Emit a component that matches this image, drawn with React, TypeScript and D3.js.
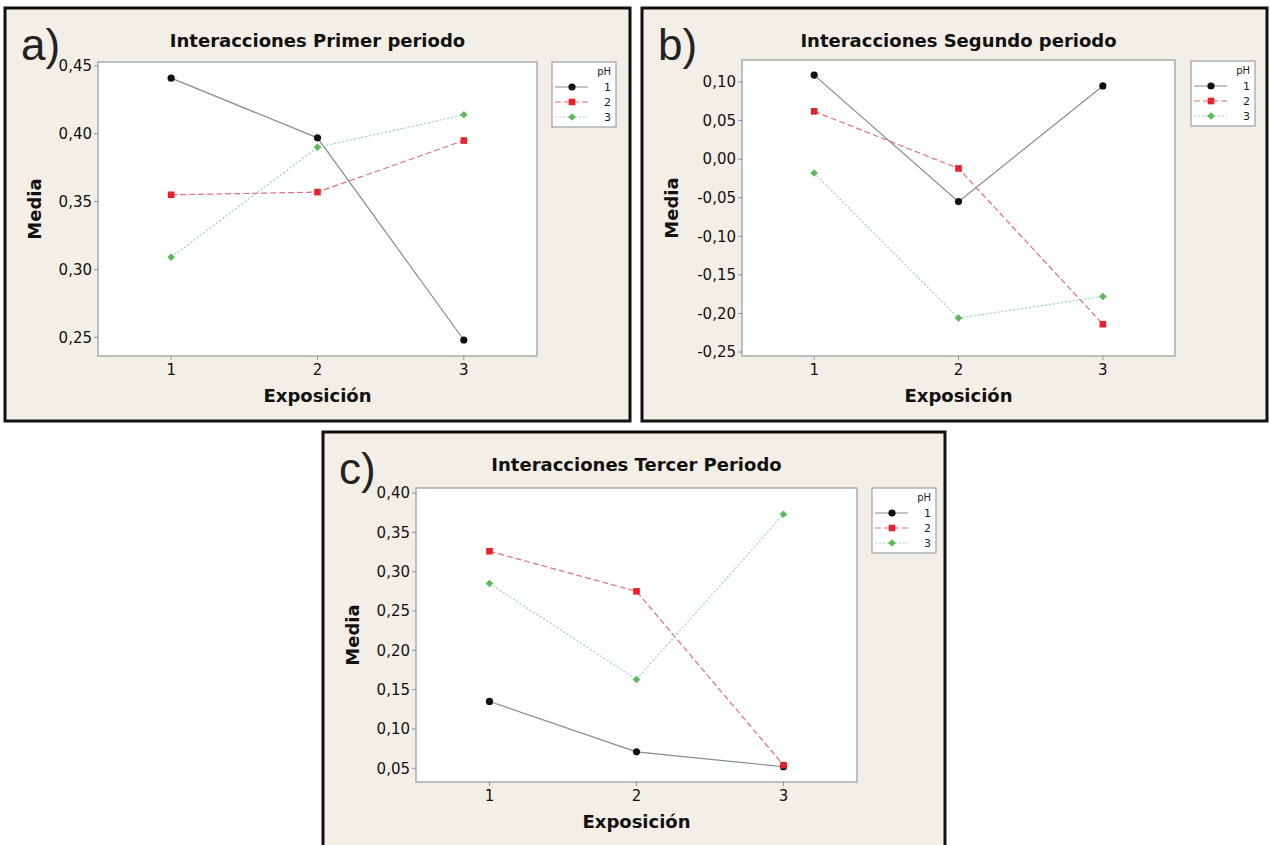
import React from "react";
import * as d3 from "d3";

// Exposure levels (x) and pH groups
const exposicion = [1, 2, 3];
const phLevels = ["1", "2", "3"];

// a) Primer periodo
const primerPH1 = [0.441, 0.397, 0.248];
const primerPH2 = [0.355, 0.357, 0.395];
const primerPH3 = [0.309, 0.39, 0.414];
const primerTicks = [0.25, 0.3, 0.35, 0.4, 0.45];

// b) Segundo periodo
const segundoPH1 = [0.109, -0.055, 0.095];
const segundoPH2 = [0.062, -0.012, -0.214];
const segundoPH3 = [-0.018, -0.206, -0.178];
const segundoTicks = [-0.25, -0.2, -0.15, -0.1, -0.05, 0, 0.05, 0.1];

// c) Tercer periodo
const tercerPH1 = [0.135, 0.071, 0.052];
const tercerPH2 = [0.326, 0.275, 0.054];
const tercerPH3 = [0.285, 0.163, 0.373];
const tercerTicks = [0.05, 0.1, 0.15, 0.2, 0.25, 0.3, 0.35, 0.4];

const seriesStyle = [
  { line: "#7f8d96", dash: "none", marker: "circle", fill: "#111111", width: 1.2 },
  { line: "#e0707c", dash: "6,3", marker: "square", fill: "#e8202a", width: 1.2 },
  { line: "#98d4b8", dash: "2,2", marker: "diamond", fill: "#5cba5c", width: 1.2 },
];

const fmt = (v: number) => d3.format(".2f")(v).replace(".", ",").replace("−", "-");

const tickFont = "DejaVu Sans, sans-serif";

function Marker({ type, x, y, fill }: { type: string; x: number; y: number; fill: string }) {
  if (type === "circle") return <circle cx={x} cy={y} r={3.6} fill={fill} />;
  if (type === "square") return <rect x={x - 3.3} y={y - 3.3} width={6.6} height={6.6} fill={fill} />;
  const s = 3.8;
  return <path d={`M${x},${y - s}L${x + s},${y}L${x},${y + s}L${x - s},${y}Z`} fill={fill} />;
}

type PanelProps = {
  frame: [number, number, number, number];
  plot: [number, number, number, number];
  domain: [number, number];
  ticks: number[];
  series: number[][];
  title: string;
  letter: string;
  legend: [number, number];
};

function Panel({ frame, plot, domain, ticks, series, title, letter, legend }: PanelProps) {
  const [fx, fy, fw, fh] = frame;
  const [px, py, pw, ph] = plot;
  const x = d3.scaleLinear().domain([0.5, 3.5]).range([px, px + pw]);
  const y = d3.scaleLinear().domain(domain).range([py + ph, py]);
  const line = d3
    .line<number>()
    .x((_, i) => x(exposicion[i]))
    .y((d) => y(d));
  const cx = px + pw / 2;
  const [lx, ly] = legend;

  return (
    <g>
      <rect x={fx} y={fy} width={fw} height={fh} fill="#f4efe6" stroke="#111" strokeWidth={3} />
      <text x={fx + 16} y={fy + 52} fontFamily="Liberation Sans, Arial, sans-serif" fontSize={44} fill="#222">
        {letter}
      </text>
      <text x={cx} y={fy + 39} textAnchor="middle" fontFamily={tickFont} fontWeight="bold" fontSize={18} fill="#111">
        {title}
      </text>
      <rect x={px} y={py} width={pw} height={ph} fill="#ffffff" stroke="#97a3a8" strokeWidth={1.3} />
      {ticks.map((t) => (
        <g key={t}>
          <line x1={px - 4} x2={px} y1={y(t)} y2={y(t)} stroke="#8a969b" />
          <text x={px - 6} y={y(t)} dy="0.35em" textAnchor="end" fontFamily={tickFont} fontSize={15} fill="#111">
            {fmt(t)}
          </text>
        </g>
      ))}
      {exposicion.map((e) => (
        <g key={e}>
          <line x1={x(e)} x2={x(e)} y1={py + ph} y2={py + ph + 4} stroke="#8a969b" />
          <text x={x(e)} y={py + ph + 19} textAnchor="middle" fontFamily={tickFont} fontSize={15} fill="#111">
            {e}
          </text>
        </g>
      ))}
      <text x={cx} y={py + ph + 46} textAnchor="middle" fontFamily={tickFont} fontWeight="bold" fontSize={18} fill="#111">
        Exposición
      </text>
      <text
        transform={`translate(${fx + 36},${py + ph / 2}) rotate(-90)`}
        textAnchor="middle"
        fontFamily={tickFont}
        fontWeight="bold"
        fontSize={18}
        fill="#111"
      >
        Media
      </text>
      {series.map((s, i) => (
        <path
          key={"l" + i}
          d={line(s) || ""}
          fill="none"
          stroke={seriesStyle[i].line}
          strokeWidth={seriesStyle[i].width}
          strokeDasharray={seriesStyle[i].dash}
        />
      ))}
      {series.map((s, i) =>
        s.map((v, j) => (
          <Marker key={`m${i}-${j}`} type={seriesStyle[i].marker} x={x(exposicion[j])} y={y(v)} fill={seriesStyle[i].fill} />
        ))
      )}
      <g>
        <rect x={lx} y={ly} width={64} height={65} fill="#ffffff" stroke="#97a3a8" strokeWidth={1.2} />
        <text x={lx + 59} y={ly + 13} textAnchor="end" fontFamily={tickFont} fontSize={10} fill="#222">
          pH
        </text>
        {phLevels.map((p, i) => {
          const yy = ly + 25 + i * 15;
          return (
            <g key={p}>
              <line
                x1={lx + 3}
                x2={lx + 36}
                y1={yy}
                y2={yy}
                stroke={seriesStyle[i].line}
                strokeWidth={1.2}
                strokeDasharray={seriesStyle[i].dash}
              />
              <Marker type={seriesStyle[i].marker} x={lx + 20} y={yy} fill={seriesStyle[i].fill} />
              <text x={lx + 59} y={yy} dy="0.35em" textAnchor="end" fontFamily={tickFont} fontSize={11} fill="#222">
                {p}
              </text>
            </g>
          );
        })}
      </g>
    </g>
  );
}

export default function App() {
  return (
    <svg width={1270} height={845} style={{ position: "absolute", left: 0, top: 0, background: "#fff" }}>
      <Panel
        frame={[5, 8, 625, 413]}
        plot={[98, 62, 439, 294]}
        domain={[0.2362, 0.4529]}
        ticks={primerTicks}
        series={[primerPH1, primerPH2, primerPH3]}
        title="Interacciones Primer periodo"
        letter="a)"
        legend={[552, 62]}
      />
      <Panel
        frame={[642, 8, 625, 413]}
        plot={[742, 60, 433, 296]}
        domain={[-0.2552, 0.1286]}
        ticks={segundoTicks}
        series={[segundoPH1, segundoPH2, segundoPH3]}
        title="Interacciones Segundo periodo"
        letter="b)"
        legend={[1191, 61]}
      />
      <Panel
        frame={[323, 432, 622, 420]}
        plot={[416, 488, 441, 294]}
        domain={[0.0326, 0.4064]}
        ticks={tercerTicks}
        series={[tercerPH1, tercerPH2, tercerPH3]}
        title="Interacciones Tercer Periodo"
        letter="c)"
        legend={[872, 488]}
      />
    </svg>
  );
}
